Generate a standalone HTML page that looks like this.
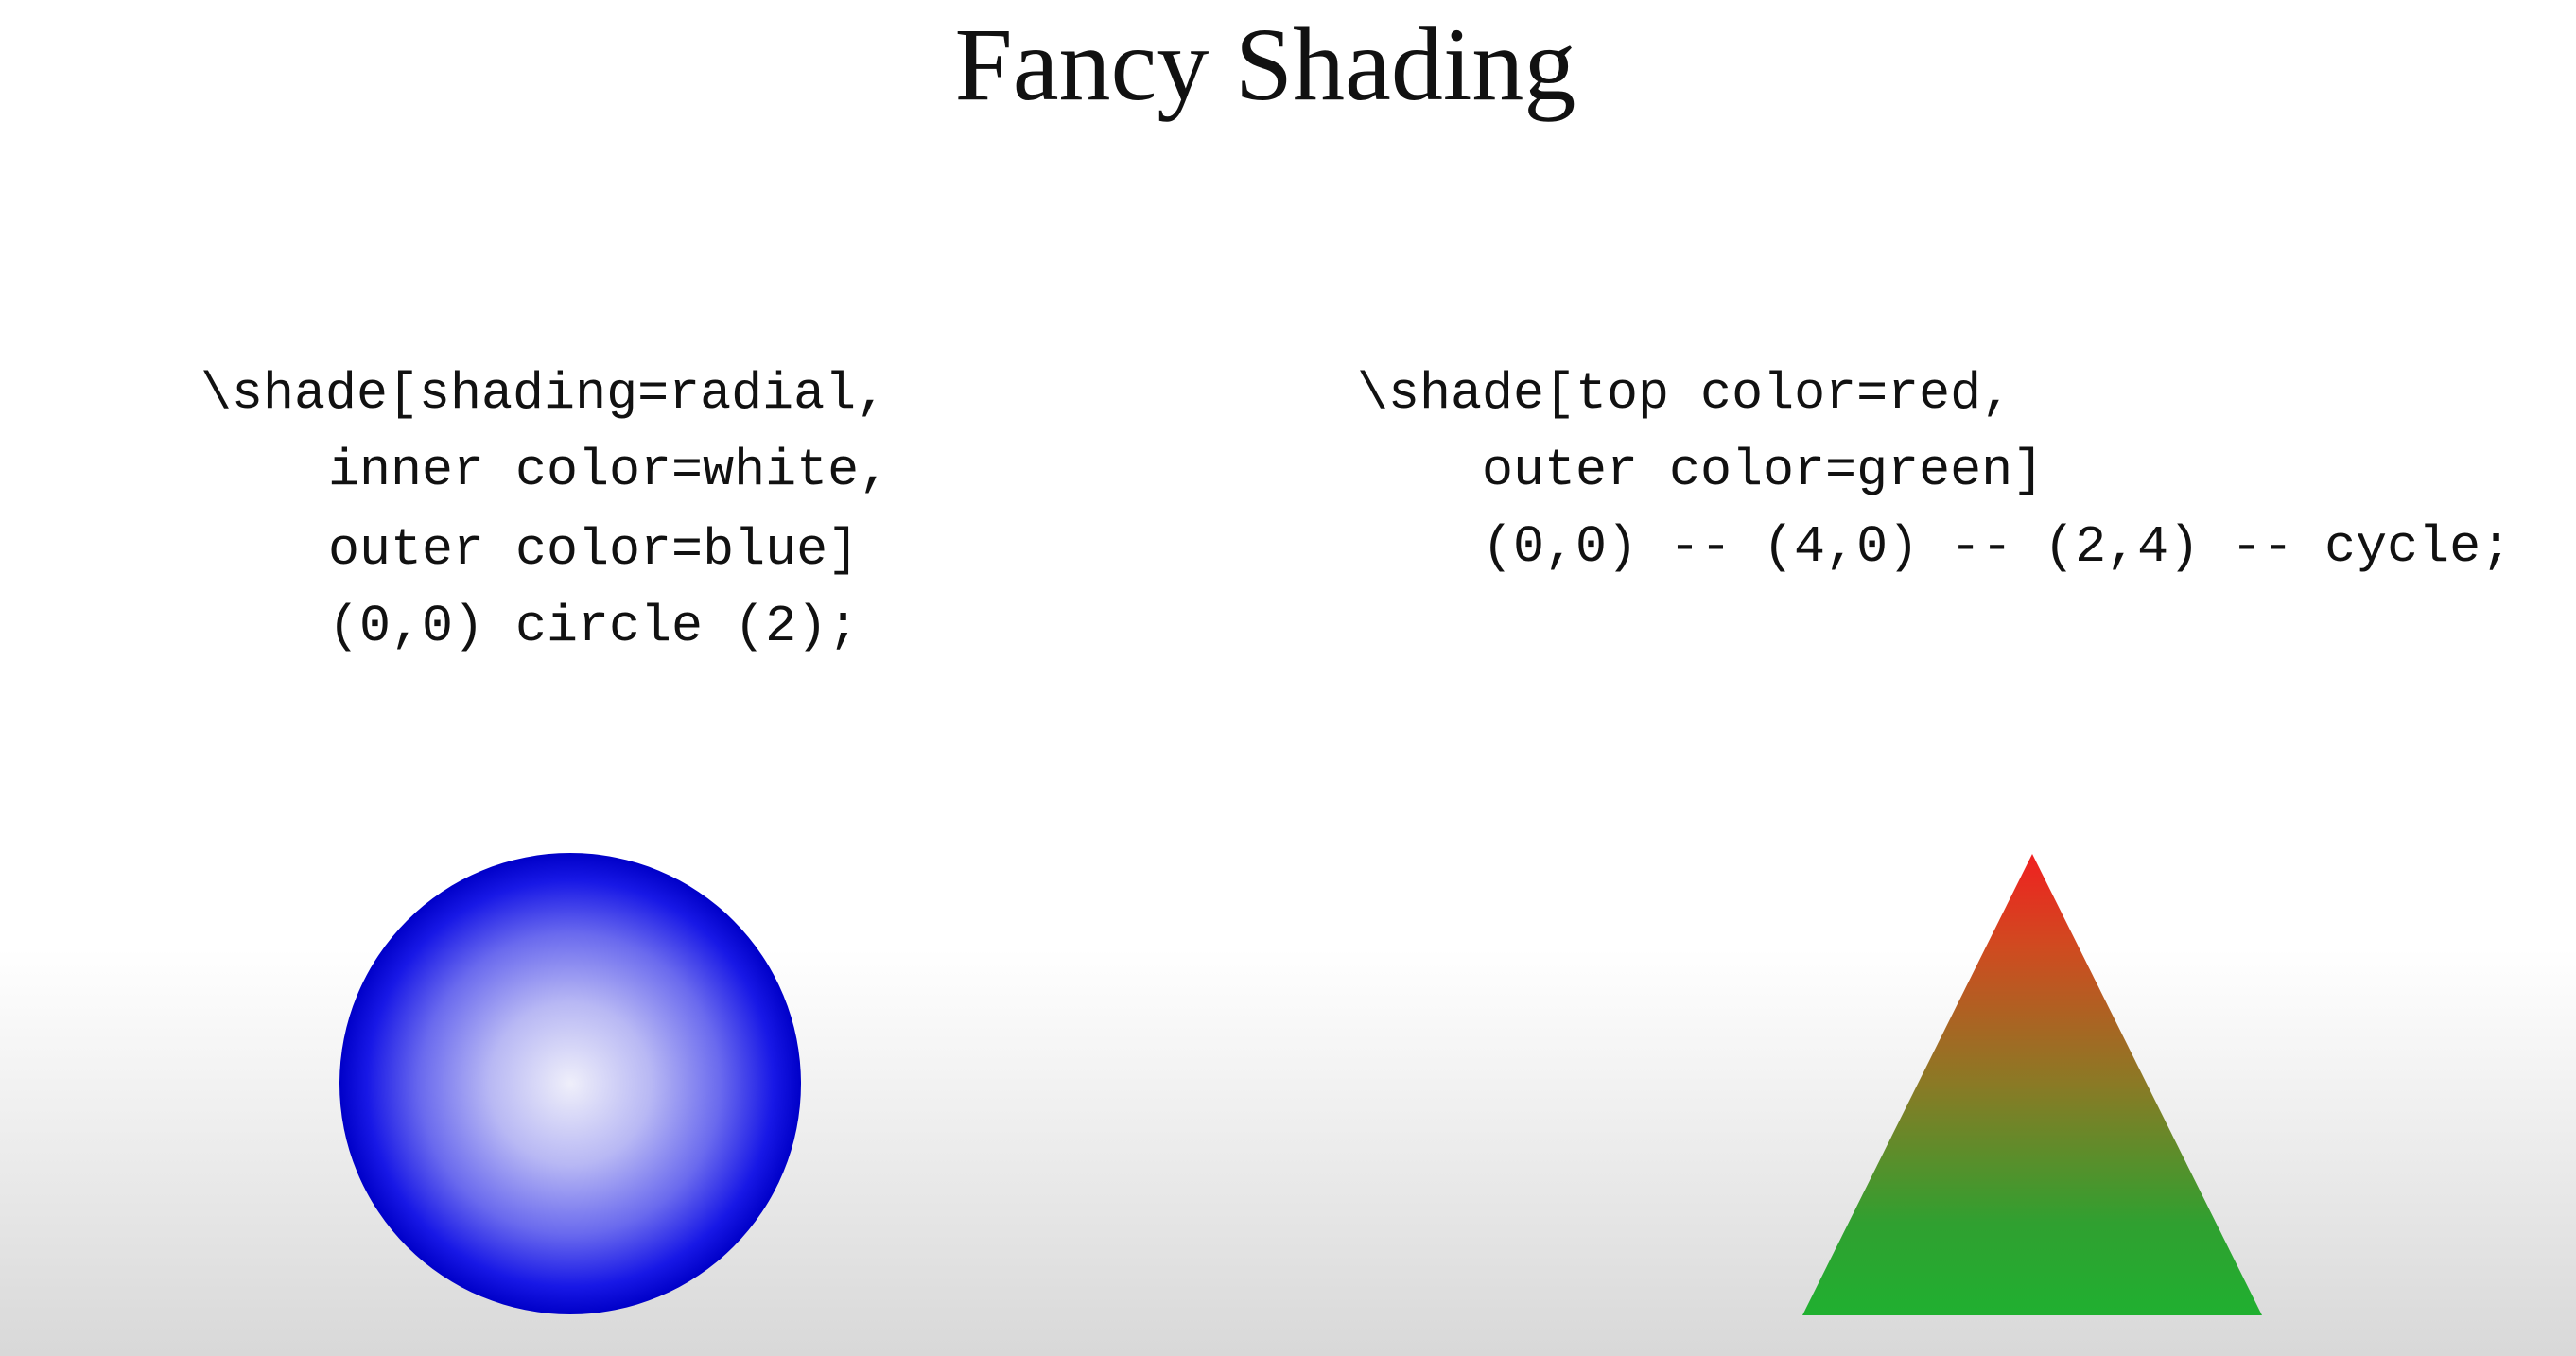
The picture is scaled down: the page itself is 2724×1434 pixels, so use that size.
<!DOCTYPE html>
<html><head><meta charset="utf-8"><style>
html,body{margin:0;padding:0;width:2724px;height:1434px;overflow:hidden;background:#fff}
</style></head><body>
<svg width="2724" height="1434" viewBox="0 0 2724 1434" xmlns="http://www.w3.org/2000/svg">
<defs>
<linearGradient id="bg" x1="0" y1="0" x2="0" y2="1">
<stop offset="0" stop-color="#ffffff"/><stop offset="0.7" stop-color="#ffffff"/><stop offset="1" stop-color="#d8d8d8"/>
</linearGradient>
<radialGradient id="rad" cx="0.5" cy="0.5" r="0.5">
<stop offset="0" stop-color="#efeffa"/><stop offset="0.35" stop-color="#b8b8f4"/><stop offset="0.65" stop-color="#6a6aee"/><stop offset="0.88" stop-color="#1818e6"/><stop offset="1" stop-color="#0000c8"/>
</radialGradient>
<linearGradient id="tri" x1="0" y1="0" x2="0" y2="1">
<stop offset="0" stop-color="#f02020"/><stop offset="0.2" stop-color="#d04a20"/><stop offset="0.5" stop-color="#8a7a25"/><stop offset="0.8" stop-color="#30a030"/><stop offset="1" stop-color="#20b030"/>
</linearGradient>
</defs>
<rect x="0" y="0" width="2724" height="1434" fill="url(#bg)"/>
<text x="1338" y="105" text-anchor="middle" font-family="Liberation Serif, serif" font-size="110" fill="#111">Fancy Shading</text>
<g font-family="Liberation Mono, monospace" font-size="55" fill="#111">
<text x="212" y="431">\shade[shading=radial,</text>
<text x="347" y="512">inner color=white,</text>
<text x="347" y="596">outer color=blue]</text>
<text x="347" y="677">(0,0) circle (2);</text>
</g>
<g font-family="Liberation Mono, monospace" font-size="55" fill="#111">
<text x="1435" y="431">\shade[top color=red,</text>
<text x="1567" y="512">outer color=green]</text>
<text x="1567" y="593">(0,0) -- (4,0) -- (2,4) -- cycle;</text>
</g>
<circle cx="603" cy="1146" r="244" fill="url(#rad)"/>
<polygon points="2149,903 2392,1391 1906,1391" fill="url(#tri)"/>
</svg>
</body></html>
